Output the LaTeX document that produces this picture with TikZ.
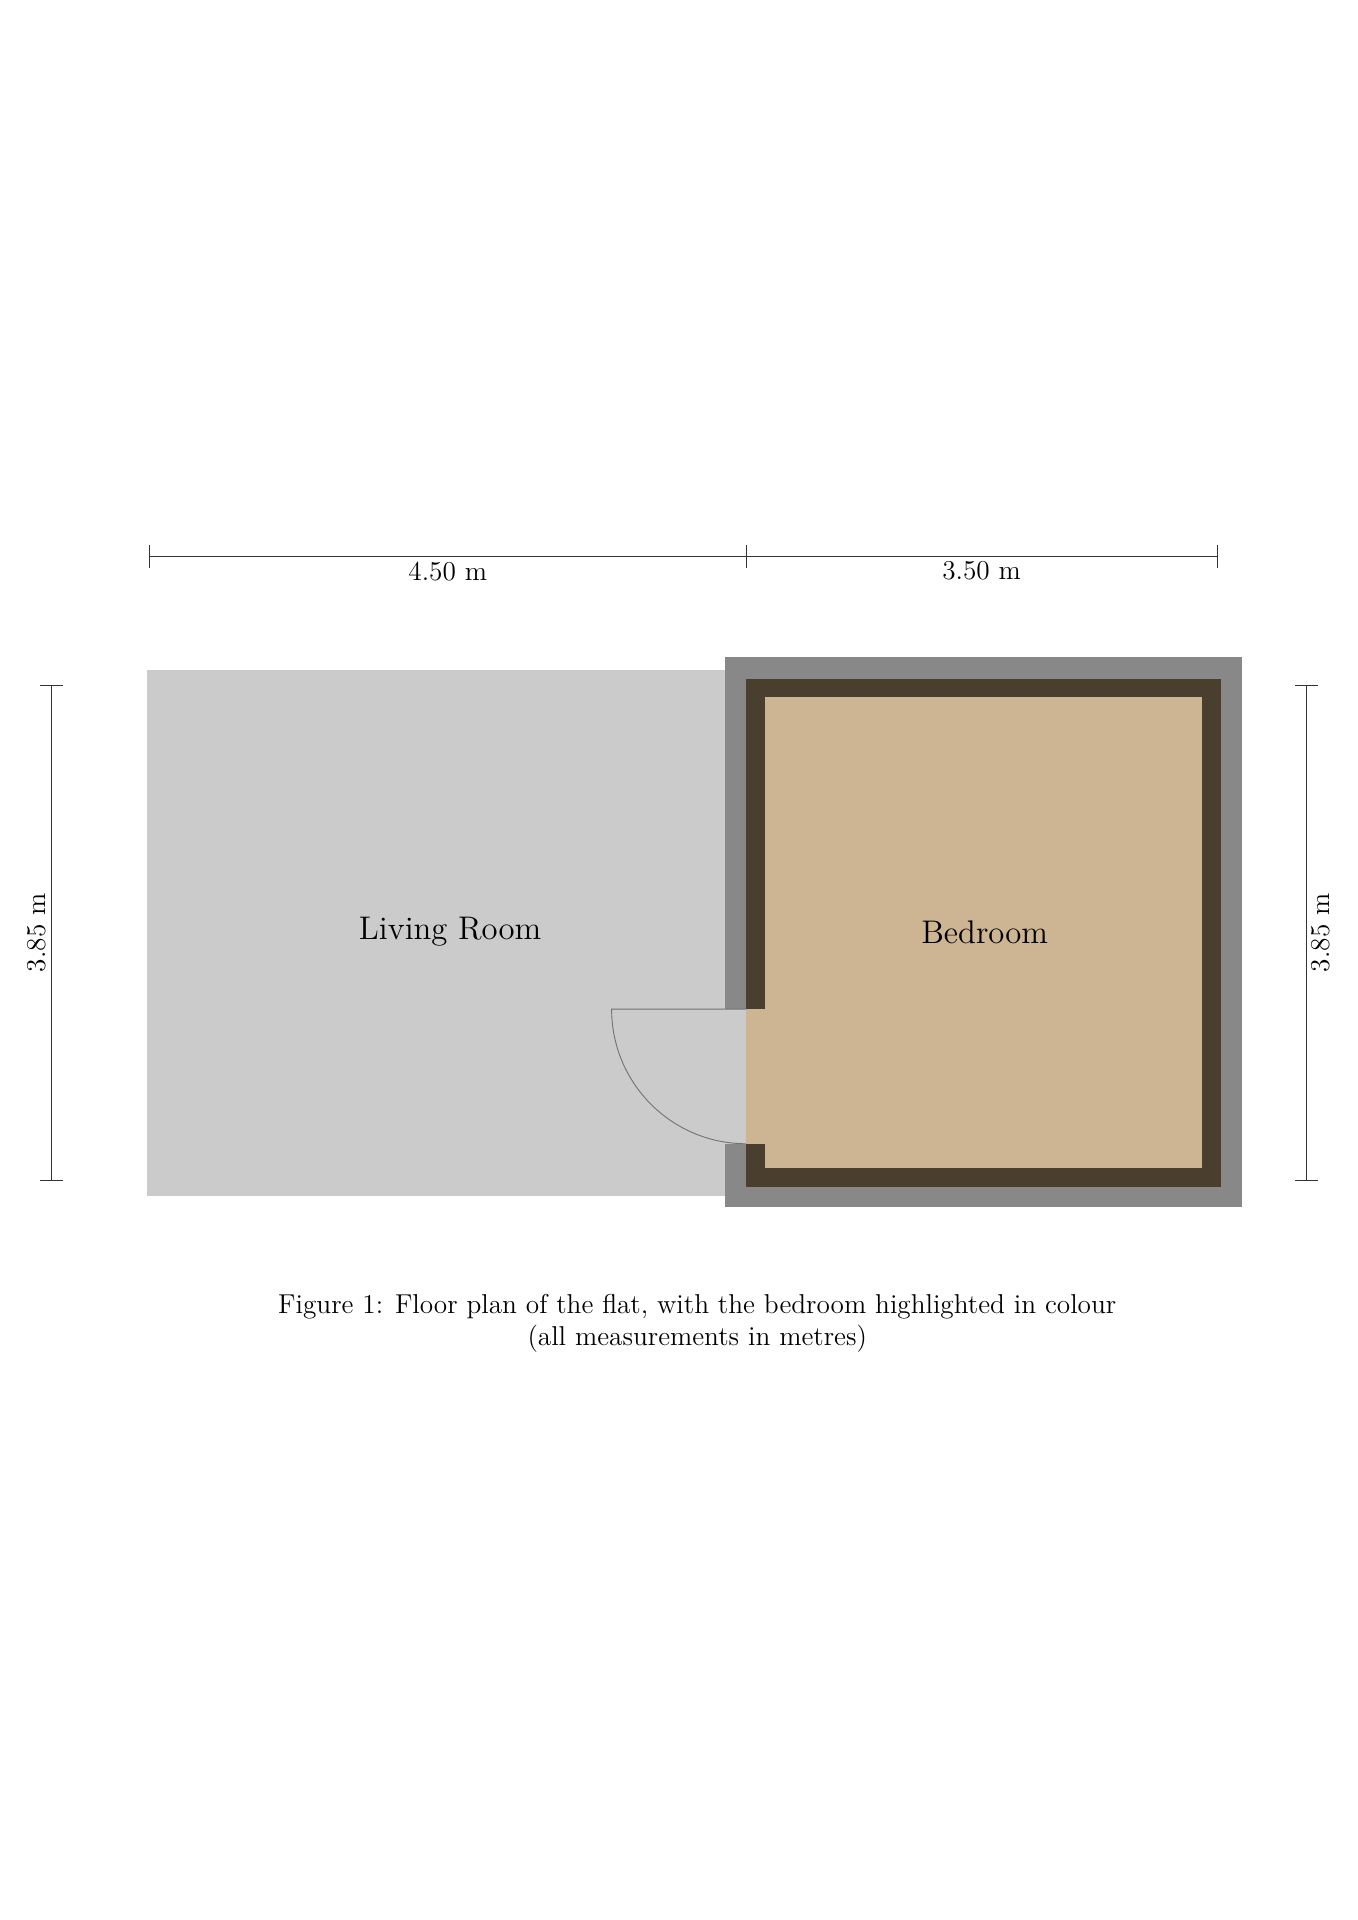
\documentclass[tikz,border=0pt]{standalone}
\usepackage{tikz}
\definecolor{roomGray}{HTML}{CBCBCB}
\definecolor{wallGray}{HTML}{888888}
\definecolor{roomTan}{HTML}{CDB594}
\definecolor{wallBrown}{HTML}{4A3F2E}

\begin{document}
\begin{tikzpicture}[> = stealth, semithick, x=0.018919cm, y=0.018919cm,
    dimline/.style = {thin, color=black!80},
    dimlabel/.style = {font=\large, inner sep=2pt},
    roomlabel/.style = {font=\Large}]

    \useasboundingbox (0, 0) rectangle (1110, -1569.6) ;

    % rooms %

    % living room (left)
    \fill [roomGray] (120, -548) rectangle (610, -978) ;
    \node [roomlabel] at (368, -762) (lbl-living) {Living Room} ;

    % bedroom (right): gray wall, brown frame, tan floor
    \fill [wallGray] (593, -537) rectangle (1015, -987) ;
    \fill [wallBrown] (610, -555) rectangle (998, -970) ;
    \fill [roomTan] (625, -570) rectangle (983, -955) ;
    \node [roomlabel] at (805, -762) (lbl-bed) {Bedroom} ;

    % door between the rooms
    \fill [roomGray] (592, -825) rectangle (610, -935) ;
    \fill [roomTan] (610, -825) rectangle (626, -935) ;
    \coordinate (door-hinge) at (610, -825) ;
    \coordinate (door-leaf) at (500, -825) ;
    \draw [thin, black!55] (door-hinge) -- (door-leaf)
        arc [start angle=180, end angle=270, radius=110] ;


    % dimensions %

    % top
    \coordinate (dim-t1) at (122, -455) ;
    \coordinate (dim-t2) at (610, -455) ;
    \coordinate (dim-t3) at (995, -455) ;
    \draw [dimline] (dim-t1) -- (dim-t3) ;
    \foreach \p in {dim-t1, dim-t2, dim-t3}
        \draw [dimline] ([yshift=5pt]\p) -- ([yshift=-5pt]\p) ;
    \path (dim-t1) -- (dim-t2) node [midway, below, dimlabel] (lbl-w1) {4.50 m} ;
    \path (dim-t2) -- (dim-t3) node [midway, below, dimlabel] (lbl-w2) {3.50 m} ;

    % left
    \coordinate (dim-l1) at (42, -560) ;
    \coordinate (dim-l2) at (42, -965) ;
    \draw [dimline] (dim-l1) -- (dim-l2) ;
    \foreach \p in {dim-l1, dim-l2}
        \draw [dimline] ([xshift=-5pt]\p) -- ([xshift=5pt]\p) ;
    \path (dim-l1) -- (dim-l2) node [midway, above, rotate=90, dimlabel] (lbl-h1) {3.85 m} ;

    % right
    \coordinate (dim-r1) at (1068, -560) ;
    \coordinate (dim-r2) at (1068, -965) ;
    \draw [dimline] (dim-r1) -- (dim-r2) ;
    \foreach \p in {dim-r1, dim-r2}
        \draw [dimline] ([xshift=-5pt]\p) -- ([xshift=5pt]\p) ;
    \path (dim-r1) -- (dim-r2) node [midway, below, rotate=90, dimlabel] (lbl-h2) {3.85 m} ;


    % caption %
    \node [align=center, font=\large] at (570, -1082) (caption)
        {Figure 1: Floor plan of the flat, with the bedroom highlighted in colour \\
         (all measurements in metres)} ;

\end{tikzpicture}
\end{document}
